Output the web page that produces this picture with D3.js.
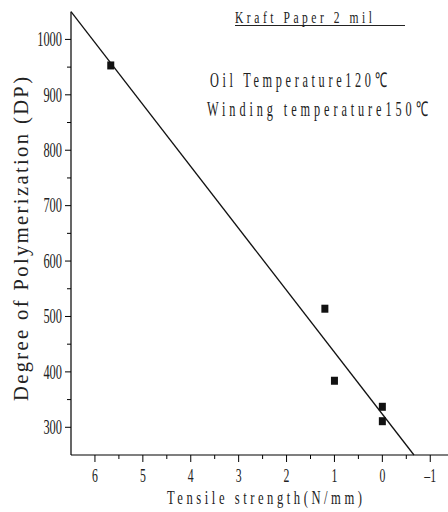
<!DOCTYPE html>
<html>
<head>
<meta charset="utf-8">
<script src="https://cdn.jsdelivr.net/npm/d3@7"></script>
<style>
  html, body { margin: 0; padding: 0; background: #fff; }
  svg { display: block; font-family: "Liberation Serif", "Times New Roman", serif; }
</style>
</head>
<body>
<svg id="chart" width="448" height="512"></svg>
<script>
// Tensile strength (N/mm) vs degree of polymerization, Kraft paper 2 mil
const tensile = [5.67, 1.2, 1.0, 0.0, 0.0];
const dp = [953, 514, 384, 337, 311];

// Fitted line end points
const fitTensile = [6.5, -0.66];
const fitDp = [1050, 250];

const xMajorTicks = [6, 5, 4, 3, 2, 1, 0, -1];
const xMinorTicks = [5.5, 4.5, 3.5, 2.5, 1.5, 0.5, -0.5];
const yMajorTicks = [300, 400, 500, 600, 700, 800, 900, 1000];
const yMinorTicks = [350, 450, 550, 650, 750, 850, 950];

const svg = d3.select("#chart");

const x = d3.scaleLinear().domain([6.5, -1.5]).range([71, 454.2]);
const y = d3.scaleLinear().domain([250, 1050]).range([455, 11.7]);

const ink = "#222";
const squeeze = 0.62;

// Narrow glyphs spread out to a given width (span in screen pixels)
function spacedText(px, py, str, size, sx, span, rotate) {
  const t = svg.append("text")
    .attr("transform", `translate(${px},${py})${rotate ? " rotate(" + rotate + ")" : ""} scale(${sx},1)`)
    .attr("font-size", size)
    .attr("fill", ink)
    .text(str);
  if (span) t.attr("textLength", span / sx).attr("lengthAdjust", "spacing");
  return t;
}

// Axis lines
svg.append("line")
  .attr("x1", x(6.5)).attr("x2", x(-1.5))
  .attr("y1", y(250)).attr("y2", y(250))
  .attr("stroke", "#000").attr("stroke-width", 1.2);
svg.append("line")
  .attr("x1", x(6.5)).attr("x2", x(6.5))
  .attr("y1", y(250)).attr("y2", y(1050))
  .attr("stroke", "#000").attr("stroke-width", 1.2);

// X ticks
const xAxisY = y(250);
svg.append("g").selectAll("line").data(xMajorTicks).join("line")
  .attr("x1", d => x(d)).attr("x2", d => x(d))
  .attr("y1", xAxisY).attr("y2", xAxisY + 7)
  .attr("stroke", "#000").attr("stroke-width", 1);
svg.append("g").selectAll("line").data(xMinorTicks).join("line")
  .attr("x1", d => x(d)).attr("x2", d => x(d))
  .attr("y1", xAxisY).attr("y2", xAxisY + 4)
  .attr("stroke", "#000").attr("stroke-width", 1);
svg.append("g").selectAll("text").data(xMajorTicks).join("text")
  .attr("transform", d => `translate(${x(d)},${xAxisY + 27}) scale(${squeeze},1)`)
  .attr("text-anchor", "middle")
  .attr("font-size", 19)
  .attr("fill", ink)
  .text(d => d < 0 ? "\u2013" + Math.abs(d) : d);

// Y ticks
const yAxisX = x(6.5);
svg.append("g").selectAll("line").data(yMajorTicks).join("line")
  .attr("x1", yAxisX - 6).attr("x2", yAxisX)
  .attr("y1", d => y(d)).attr("y2", d => y(d))
  .attr("stroke", "#000").attr("stroke-width", 1);
svg.append("g").selectAll("line").data(yMinorTicks).join("line")
  .attr("x1", yAxisX - 4).attr("x2", yAxisX)
  .attr("y1", d => y(d)).attr("y2", d => y(d))
  .attr("stroke", "#000").attr("stroke-width", 1);
svg.append("g").selectAll("text").data(yMajorTicks).join("text")
  .attr("transform", d => `translate(${yAxisX - 9},${y(d) + 6.8}) scale(${squeeze},1)`)
  .attr("text-anchor", "end")
  .attr("font-size", 20)
  .attr("fill", ink)
  .text(d => d);

// Fitted line
svg.append("line")
  .attr("x1", x(fitTensile[0])).attr("y1", y(fitDp[0]))
  .attr("x2", x(fitTensile[1])).attr("y2", y(fitDp[1]))
  .attr("stroke", "#111").attr("stroke-width", 1.3);

// Measured points
const mw = 7, mh = 8;
svg.append("g").selectAll("rect").data(tensile).join("rect")
  .attr("x", d => x(d) - mw / 2)
  .attr("y", (d, i) => y(dp[i]) - mh / 2)
  .attr("width", mw).attr("height", mh)
  .attr("fill", "#111");

// Axis titles
spacedText(167, 504, "Tensile strength(N/mm)", 18, 0.7, 195);
spacedText(28, 401, "Degree of Polymerization (DP)", 20.5, 1, 324, -90);

// Annotations
spacedText(235, 22.5, "Kraft Paper 2 mil", 17, 0.68, 137);
svg.append("line")
  .attr("x1", 235).attr("x2", 405)
  .attr("y1", 25.5).attr("y2", 25.5)
  .attr("stroke", ink).attr("stroke-width", 1);

spacedText(210, 86.5, "Oil Temperature120\u2103", 20.5, 0.6, 177);
spacedText(207, 116, "Winding temperature150\u2103", 20.5, 0.6, 221);
</script>
</body>
</html>
